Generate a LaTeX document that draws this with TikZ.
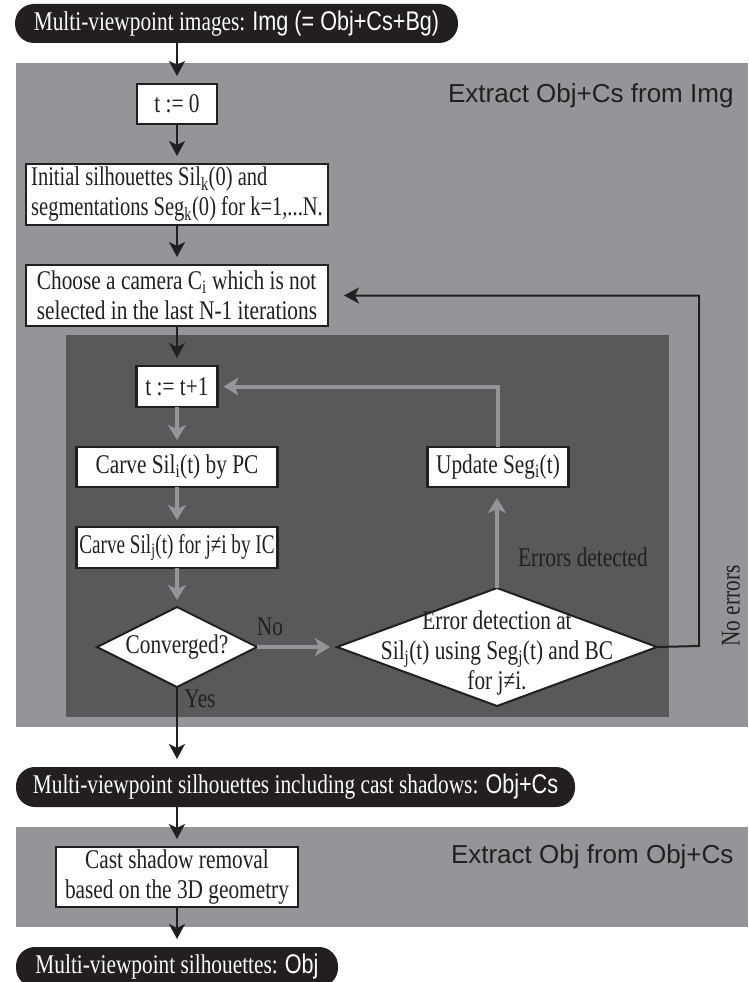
\documentclass[tikz,border=0pt]{standalone}
\usepackage{fontspec}
\setmainfont[FakeStretch=0.79]{Liberation Serif}
\setsansfont{Liberation Sans}
\newfontfamily\condsans[FakeStretch=0.8]{Liberation Sans}
\newfontfamily\snugserif[FakeStretch=0.76]{Liberation Serif}
\newfontfamily\tightserif[FakeStretch=0.71]{Liberation Serif}
\usepackage{tikz}
\usetikzlibrary{arrows.meta,positioning,shapes.geometric}
\definecolor{FCBlack}{HTML}{231F20}
\definecolor{FCGrey}{HTML}{939598}
\definecolor{FCDark}{HTML}{58595B}

\begin{document}
\begin{tikzpicture}[
  x=1pt,y=-1pt,
  box/.style={draw=FCBlack,line width=2.2pt,fill=white,inner sep=2pt,outer sep=0pt,
    align=center,text=FCBlack,font=\fontsize{27}{30}\selectfont},
  dia/.style={diamond,draw=FCBlack,line width=2pt,fill=white,inner sep=0pt,outer sep=0pt,
    text=FCBlack,font=\fontsize{27}{30}\selectfont},
  pill/.style={fill=FCBlack,text=white,rounded corners=19pt,inner sep=0pt,outer sep=0pt,
    font=\fontsize{27}{30}\selectfont},
  arrow/.style={-{Stealth[length=15pt,width=16pt,inset=4pt]},line width=2pt,
    draw=FCBlack,shorten >=8pt},
  garrow/.style={-{Stealth[length=15pt,width=18pt,inset=4pt]},line width=4pt,
    draw=FCGrey,shorten >=7pt},
  lbl/.style={font=\sffamily\fontsize{26}{28}\selectfont,text=FCBlack,anchor=east},
  note/.style={font=\fontsize{27}{30}\selectfont,text=FCBlack}
]
  \useasboundingbox (0,0) rectangle (748,982);
  % panels
  \fill[FCGrey] (16,63) rectangle (748,727);
  \fill[FCDark] (66,335) rectangle (669,717);
  \fill[FCGrey] (16,827) rectangle (748,927);

  \node[pill,minimum width=443pt,minimum height=39pt] (imgs) at (236.5,23.5)
    {Multi-viewpoint images: {\condsans Img (= Obj+Cs+Bg)}};
  \node[lbl] (ttlimg) at (737,96) {Extract Obj+Cs from Img};

  \node[box,minimum width=80pt,minimum height=40pt] (t0) at (177,104) {t := 0};
  \node[box,minimum width=302pt,minimum height=61pt,align=left,below=40pt of t0] (init)
    {\snugserif Initial silhouettes Sil\textsubscript{k}(0) and\\
     \snugserif segmentations Seg\textsubscript{k}(0) for k=1,...N.};
  \node[box,minimum width=302pt,minimum height=61pt,align=left,below=40pt of init] (choose)
    {Choose a camera C\textsubscript{i} which is not\\selected in the last N-1 iterations};
  \node[box,minimum width=81pt,minimum height=41pt,below=40pt of choose] (t1) {t := t+1};
  \node[box,minimum width=201pt,minimum height=40pt,below=40pt of t1] (carvei)
    {Carve Sil\textsubscript{i}(t) by PC};
  \node[box,minimum width=201pt,minimum height=41pt,below=40pt of carvei] (carvej)
    {\tightserif Carve Sil\textsubscript{j}(t) for j≠i by IC};
  \node[dia,aspect=2,minimum width=160pt,minimum height=80pt,below=39pt of carvej] (conv)
    {Converged?};
  \node[box,minimum width=141pt,minimum height=40pt,right=150pt of carvei] (upd)
    {Update Seg\textsubscript{i}(t)};
  \node[dia,aspect=2.71,minimum width=320pt,minimum height=118pt,right=80pt of conv] (err) {};
  \node[note,align=center] (errtxt) at ([yshift=-6pt]err.center)
    {Error detection at\\Sil\textsubscript{j}(t) using Seg\textsubscript{j}(t) and BC\\for j≠i.};
  \coordinate (noerr) at (699,646);

  \node[pill,minimum width=559pt,minimum height=40pt] (objcs) at (295.5,787)
    {Multi-viewpoint silhouettes including cast shadows: {\condsans Obj+Cs}};
  \node[box,minimum width=242pt,minimum height=60pt] (cast) at (177,877)
    {Cast shadow removal\\based on the 3D geometry};
  \node[lbl] (ttlobj) at (737,857) {Extract Obj from Obj+Cs};
  \node[pill,minimum width=322pt,minimum height=40pt] (obj) at (177,967)
    {Multi-viewpoint silhouettes: {\condsans Obj}};

  \node[note] (errlbl) at (583,557) {Errors detected};
  \node[note,rotate=90] (noerrlbl) at (731,606) {No errors};
  \node[note] (nolbl) at (270,627) {No};
  \node[note] (yeslbl) at (200,699) {Yes};

  \draw[arrow] (imgs.south -| t0) -- (t0);
  \draw[arrow] (t0) -- (init);
  \draw[arrow] (init) -- (choose);
  \draw[arrow] (choose) -- (t1);
  \draw[garrow] (t1) -- (carvei);
  \draw[garrow] (carvei) -- (carvej);
  \draw[garrow] (carvej) -- (conv);
  \draw[garrow] (conv) -- (err);
  \draw[garrow,shorten >=11pt] (err.north) -- (err.north |- upd.south);
  \draw[garrow,shorten >=6pt] (upd.north) |- (t1.east);
  \draw[arrow,shorten >=16pt] (err.east) -- (noerr) |- (choose.east);
  \draw[arrow] (conv.south) -- (objcs.north -| conv);
  \draw[arrow] (objcs.south -| cast) -- (cast);
  \draw[arrow] (cast) -- (obj.north -| cast);
\end{tikzpicture}
\end{document}
